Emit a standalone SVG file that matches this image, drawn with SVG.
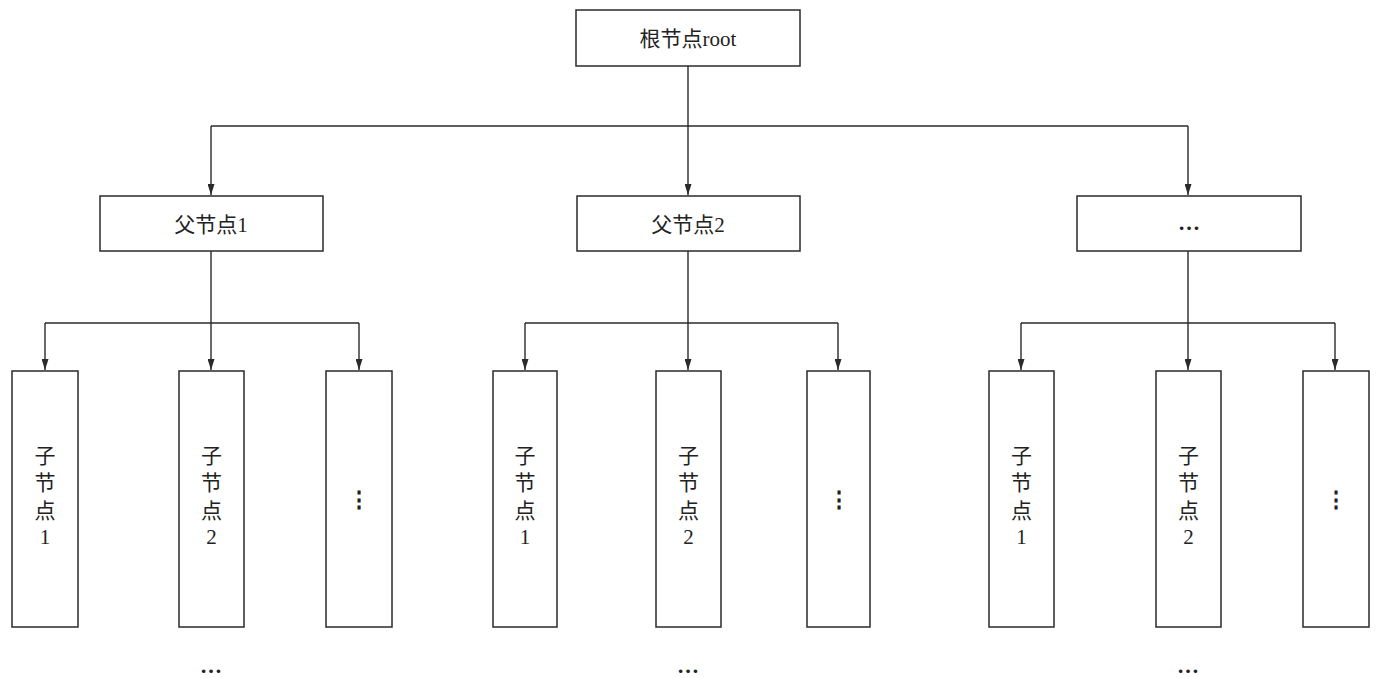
<svg xmlns="http://www.w3.org/2000/svg" width="1377" height="678" viewBox="0 0 1377 678">
<style>
.box{fill:#fff;stroke:#2a2a2a;stroke-width:1.5}
.ln{fill:none;stroke:#2a2a2a;stroke-width:1.4}
.t{font-family:"Liberation Serif","Noto Sans CJK SC",serif;font-size:21px;fill:#222;text-anchor:middle}
.v{font-family:"Liberation Serif","Noto Sans CJK SC",serif;font-size:21px;fill:#222;text-anchor:middle}
.d{font-family:"Liberation Serif","Noto Sans CJK SC",serif;font-size:22px;font-weight:bold;fill:#222;text-anchor:middle}
</style>
<defs>
<marker id="ah" viewBox="0 0 11 7" refX="11" refY="3.5" markerWidth="11" markerHeight="7" markerUnits="userSpaceOnUse" orient="auto"><path d="M0,0 L11,3.5 L0,7 z" fill="#2a2a2a"/></marker>
</defs>
<rect width="1377" height="678" fill="#fff"/>
<g id="connectors">
<path class="ln" d="M688,66 V126"/>
<path class="ln" d="M211,126 H1188"/>
<path class="ln" d="M211,126 V195" marker-end="url(#ah)"/>
<path class="ln" d="M688,126 V195" marker-end="url(#ah)"/>
<path class="ln" d="M1188,126 V195" marker-end="url(#ah)"/>
<path class="ln" d="M211,251 V323"/>
<path class="ln" d="M45,323 H359"/>
<path class="ln" d="M45,323 V370" marker-end="url(#ah)"/>
<path class="ln" d="M211,323 V370" marker-end="url(#ah)"/>
<path class="ln" d="M359,323 V370" marker-end="url(#ah)"/>
<path class="ln" d="M688,251 V323"/>
<path class="ln" d="M525,323 H838"/>
<path class="ln" d="M525,323 V370" marker-end="url(#ah)"/>
<path class="ln" d="M688,323 V370" marker-end="url(#ah)"/>
<path class="ln" d="M838,323 V370" marker-end="url(#ah)"/>
<path class="ln" d="M1188,251 V323"/>
<path class="ln" d="M1021,323 H1335"/>
<path class="ln" d="M1021,323 V370" marker-end="url(#ah)"/>
<path class="ln" d="M1188,323 V370" marker-end="url(#ah)"/>
<path class="ln" d="M1335,323 V370" marker-end="url(#ah)"/>
</g>
<g id="root"><rect class="box" x="576" y="10" width="224" height="56"/><text class="t" x="688" y="46">根节点root</text></g>
<g id="p1"><rect class="box" x="100" y="196" width="223" height="55"/><text class="t" x="211" y="232">父节点1</text></g>
<g id="p2"><rect class="box" x="577" y="196" width="223" height="55"/><text class="t" x="688" y="232">父节点2</text></g>
<g id="p3"><rect class="box" x="1077" y="196" width="224" height="55"/><text class="d" x="1189" y="230">…</text></g>

<g id="c11"><rect class="box" x="12" y="371" width="66" height="256"/><text class="v" x="45" y="463">子</text><text class="v" x="45" y="490">节</text><text class="v" x="45" y="518">点</text><text class="v" x="45" y="544">1</text></g>
<g id="c12"><rect class="box" x="179" y="371" width="65" height="256"/><text class="v" x="211.5" y="463">子</text><text class="v" x="211.5" y="490">节</text><text class="v" x="211.5" y="518">点</text><text class="v" x="211.5" y="544">2</text></g>
<g id="c13"><rect class="box" x="326" y="371" width="66" height="256"/><text class="d" x="359" y="507">⋮</text></g>

<g id="c21"><rect class="box" x="493" y="371" width="64" height="256"/><text class="v" x="525" y="463">子</text><text class="v" x="525" y="490">节</text><text class="v" x="525" y="518">点</text><text class="v" x="525" y="544">1</text></g>
<g id="c22"><rect class="box" x="656" y="371" width="65" height="256"/><text class="v" x="688.5" y="463">子</text><text class="v" x="688.5" y="490">节</text><text class="v" x="688.5" y="518">点</text><text class="v" x="688.5" y="544">2</text></g>
<g id="c23"><rect class="box" x="807" y="371" width="63" height="256"/><text class="d" x="838.5" y="507">⋮</text></g>

<g id="c31"><rect class="box" x="989" y="371" width="65" height="256"/><text class="v" x="1021.5" y="463">子</text><text class="v" x="1021.5" y="490">节</text><text class="v" x="1021.5" y="518">点</text><text class="v" x="1021.5" y="544">1</text></g>
<g id="c32"><rect class="box" x="1156" y="371" width="65" height="256"/><text class="v" x="1188.5" y="463">子</text><text class="v" x="1188.5" y="490">节</text><text class="v" x="1188.5" y="518">点</text><text class="v" x="1188.5" y="544">2</text></g>
<g id="c33"><rect class="box" x="1303" y="371" width="66" height="256"/><text class="d" x="1336" y="507">⋮</text></g>

<g id="more"><text class="d" x="211" y="673">…</text><text class="d" x="688" y="673">…</text><text class="d" x="1188" y="673">…</text></g>
</svg>
